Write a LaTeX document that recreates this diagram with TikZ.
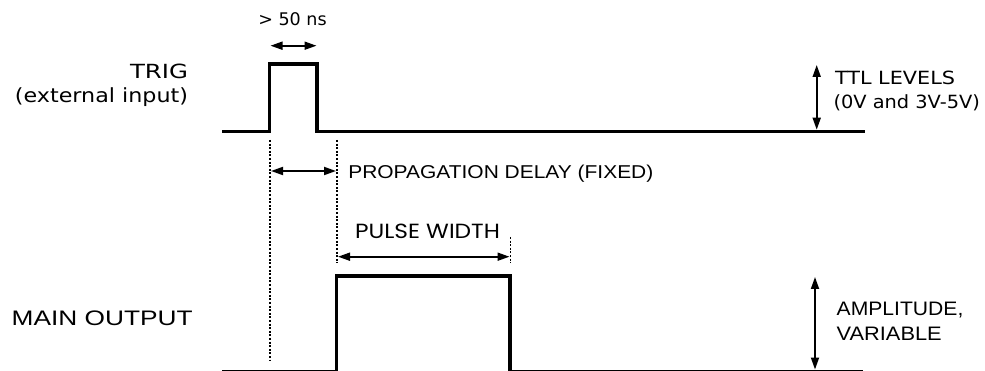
\documentclass[tikz,border=0pt]{standalone}
\usepackage{fontspec}
\usepackage{graphicx}
\setmainfont{Liberation Sans}
\newfontfamily\dvs{DejaVu Sans}
\newfontfamily\pop{Poppins}
\usetikzlibrary{arrows.meta}
\newcommand\myw[2]{\resizebox{#1pt}{\height}{#2}}
\tikzset{
  sig/.style={line width=3.5pt, line join=miter, line cap=butt},
  dots/.style={line width=1.5pt, dash pattern=on 2pt off 1.6pt},
  dim/.style={line width=1.8pt, {Triangle[length=12pt,width=8pt]}-{Triangle[length=12pt,width=8pt]}, shorten <=0pt, shorten >=0pt},
  lbl/.style={inner sep=0pt, outer sep=0pt}
}
\begin{document}
\begin{tikzpicture}[x=1pt,y=-1pt]
\useasboundingbox (0,0) rectangle (985,371);
% coordinates
\coordinate (a0) at (222,131.5);
\coordinate (a1) at (269.5,131.5);
\coordinate (a2) at (269.5,64);
\coordinate (a3) at (317,64);
\coordinate (a4) at (317,131.5);
\coordinate (a5) at (865,131.5);
\coordinate (b0) at (222,371.3);
\coordinate (b1) at (336.7,371.3);
\coordinate (b2) at (336.7,276);
\coordinate (b3) at (510,276);
\coordinate (b4) at (510,371.3);
\coordinate (b5) at (863,371.3);
% signals
\draw[sig] (a0) -- (a1) -- (a2) -- (a3) -- (a4) -- (a5);
\draw[sig] (b0) -- (b1) -- (b2) -- (b3) -- (b4) -- (b5);
% dotted guides
\coordinate (d1t) at (270,140); \coordinate (d1b) at (270,360);
\coordinate (d2t) at (337,140); \coordinate (d2b) at (337,263);
\coordinate (d3t) at (510.5,237); \coordinate (d3b) at (510.5,263);
\draw[dots] (d1t) -- (d1b);
\draw[dots] (d2t) -- (d2b);
\draw[dots] (d3t) -- (d3b);
% dimension arrows
\coordinate (w1) at (270.5,45.7); \coordinate (w2) at (316.5,45.7);
\draw[dim] (w1) -- (w2);
\coordinate (p1) at (271,171); \coordinate (p2) at (336,171);
\draw[dim] (p1) -- (p2);
\coordinate (q1) at (338,256.7); \coordinate (q2) at (509.5,256.7);
\draw[dim] (q1) -- (q2);
\coordinate (t1) at (816.7,65); \coordinate (t2) at (816.7,129.7);
\draw[dim] (t1) -- (t2);
\coordinate (m1) at (815,277); \coordinate (m2) at (815,369.5);
\draw[dim] (m1) -- (m2);
% labels
\node[lbl, anchor=base] (l50) at (292.5,26) {\dvs\fontsize{17.4}{20}\selectfont\myw{68.4}{> 50 ns}};
\node[lbl, anchor=base east] (ltrig) at (188,79) {\dvs\fontsize{19.5}{22}\selectfont\myw{58}{TRIG}};
\node[lbl, anchor=base east] (lext) at (188,103) {\dvs\fontsize{19.5}{22}\selectfont\myw{173}{(external input)}};
\node[lbl, anchor=base west] (lttl) at (835,85) {\dvs\fontsize{18.2}{22}\selectfont\myw{120}{TTL LEVELS}};
\node[lbl, anchor=base west] (lttl2) at (833.5,109) {\dvs\fontsize{18.2}{22}\selectfont\myw{146.5}{(0V and 3V-5V)}};
\node[lbl, anchor=base west] (lprop) at (348.3,178.3) {\fontsize{18.6}{22}\selectfont\myw{305}{PROPAGATION DELAY (FIXED)}};
\node[lbl, anchor=base west] (lpw) at (355,238.3) {\pop\fontsize{20.5}{24}\selectfont\myw{145}{PULSE WIDTH}};
\node[lbl, anchor=base west] (lmain) at (11.7,325) {\fontsize{21}{25}\selectfont\myw{181}{MAIN OUTPUT}};
\node[lbl, anchor=base west] (lamp) at (836.7,315.5) {\fontsize{19.5}{22}\selectfont\myw{126.7}{AMPLITUDE,}};
\node[lbl, anchor=base west] (lvar) at (836.7,340.5) {\fontsize{19.5}{22}\selectfont\myw{105}{VARIABLE}};
\end{tikzpicture}
\end{document}
